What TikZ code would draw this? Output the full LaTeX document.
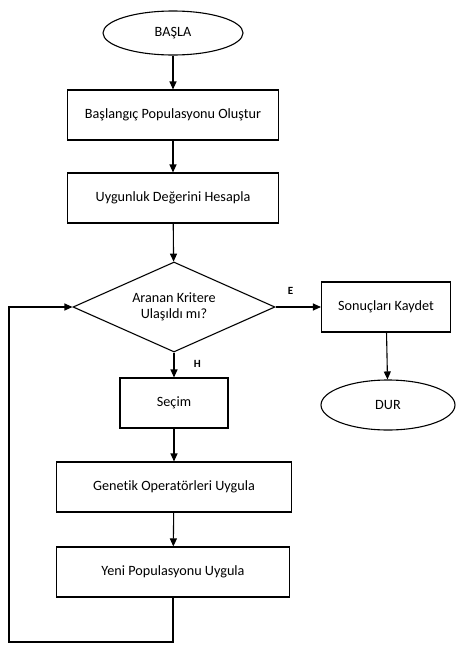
\documentclass[tikz,border=0pt]{standalone}
\usepackage{fontspec}
\setmainfont{Carlito}[Ligatures=NoCommon]
\usetikzlibrary{shapes.geometric,arrows.meta}

\begin{document}
\begin{tikzpicture}[x=1pt,y=-1pt,line width=1.1pt,
        every node/.style={font=\fontsize{14.2}{16.5}\selectfont},
        akis/.style={draw,rectangle,minimum height=50pt},
        uc/.style={draw,ellipse,minimum width=140pt,minimum height=44pt},
        karar/.style={draw,diamond,aspect=2.24,minimum width=202pt,minimum height=90pt,align=center},
        ok/.style={-{Triangle[length=8pt,width=7pt]}},
        etiket/.style={font=\fontsize{11}{13}\selectfont\bfseries}]
        \useasboundingbox (0,0) rectangle (460,645);

        \node (basla)   at (173,33)  [uc] {BAŞLA};
        \node (ilkpop)  at (173,115) [akis,minimum width=211pt] {Başlangıç Populasyonu Oluştur};
        \node (uygun)   at (173,198) [akis,minimum width=211pt] {Uygunluk Değerini Hesapla};
        \node (kriter)  at (174,307) [karar] {Aranan Kritere\\Ulaşıldı mı?};
        \node (kaydet)  at (386,307) [akis,minimum width=129pt] {Sonuçları Kaydet};
        \node (dur)     at (388,405) [uc,minimum width=134pt,minimum height=50pt] {DUR};
        \node (secim)   at (174,403) [akis,minimum width=108pt] {Seçim};
        \node (genetik) at (174,487) [akis,minimum width=235pt] {Genetik Operatörleri Uygula};
        \node (yeni)    at (173,572) [akis,minimum width=233pt] {Yeni Populasyonu Uygula};
        \coordinate (donus) at (9,642);

        % Ana akis
        \draw[ok] (basla) -- (ilkpop);
        \draw[ok] (ilkpop) -- (uygun);
        \draw[ok] (uygun) -- (kriter);
        \draw[ok] (secim) -- (genetik);
        \draw[ok] (genetik) -- (yeni);

        % Karar dallari
        \draw[ok] (kriter) -- (kaydet) node[pos=0.33,above=9pt,etiket]{E};
        \draw[ok] (kriter) -- (secim) node[pos=0.45,right=16pt,etiket]{H};
        \draw[ok] (kaydet) -- (dur);

        % Geri donus
        \draw[ok] (yeni.south) |- (donus) |- (kriter.west);
    \end{tikzpicture}
\end{document}
